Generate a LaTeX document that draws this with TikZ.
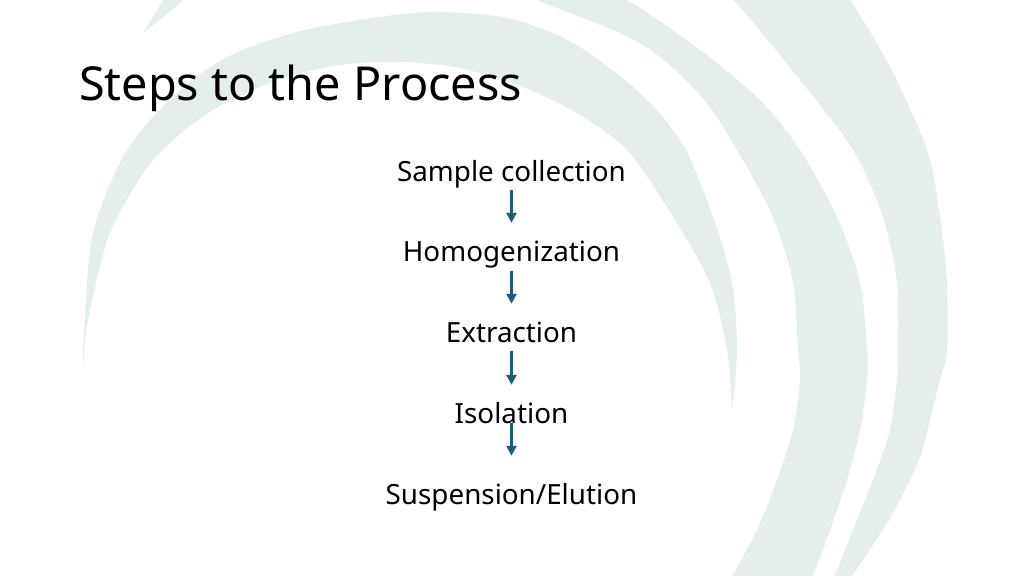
\documentclass[tikz,border=0pt]{standalone}
\usepackage{fontspec}
\setmainfont{Noto Sans}
\usetikzlibrary{arrows.meta}
\definecolor{swoosh}{RGB}{228,238,237}
\definecolor{arrowblue}{RGB}{31,93,124}
\begin{document}
\begin{tikzpicture}[x=1pt,y=-1pt,
  stepbox/.style={inner sep=0pt, anchor=base, font=\fontsize{27.8}{34}\selectfont, text height=20pt, text depth=6pt},
  flow/.style={draw=arrowblue, line width=2.6pt, -{Triangle[length=10pt,width=10pt]}},
  band/.style={fill=swoosh, draw=none}]
\useasboundingbox (0,0) rectangle (1024,575);
\fill[white] (0,0) rectangle (1024,575);
\begin{scope}
\clip (0,0) rectangle (1024,575);
% big crescent
\fill[band] plot[smooth] coordinates {(83,366) (84,333) (93,233) (127,150) (177,93) (227,57) (293,33) (360,20) (430,12) (507,18) (573,43) (640,93) (683,145) (713,217) (732,283) (737,350) (732,412)}
  -- plot[smooth] coordinates {(732,412) (727,350) (710,283) (673,217) (627,150) (575,112) (520,86) (460,68) (400,62) (340,65) (277,80) (210,112) (153,160) (110,233) (88,320) (83,366)} -- cycle;
% middle band
\fill[band] plot[smooth] coordinates {(470,-30) (537,0) (640,43) (700,95) (737,150) (773,217) (793,283) (798,350) (800,380) (793,430) (777,480) (757,530) (733,575) (720,600)}
  -- plot[smooth] coordinates {(800,600) (813,575) (830,530) (847,480) (860,430) (867,380) (867,350) (860,283) (837,217) (800,150) (760,100) (700,50) (627,0) (560,-30)} -- cycle;
% outer band
\fill[band] plot[smooth] coordinates {(680,-40) (733,0) (800,80) (853,150) (883,217) (897,283) (898,350) (897,380) (890,430) (873,480) (853,530) (835,575) (825,600)}
  -- plot[smooth] coordinates {(840,600) (853,575) (863,560) (893,513) (920,457) (933,407) (940,380) (947,350) (947,283) (940,217) (927,150) (890,67) (850,0) (820,-40)} -- cycle;
% small tip top left
\fill[band] plot[smooth] coordinates {(143,33) (153,17) (163,0) (172,-15)}
  -- plot[smooth] coordinates {(195,-15) (183,0) (163,17) (143,33)} -- cycle;
\end{scope}

\node[anchor=base west, inner sep=0pt, font=\fontsize{46.8}{56}\selectfont] (title) at (79,101) {Steps to the Process};

\node[stepbox] (s1) at (511.5,181) {Sample collection};
\node[stepbox] (s2) at (511.5,261.5) {Homogenization};
\node[stepbox] (s3) at (511.5,342.5) {Extraction};
\node[stepbox] (s4) at (511.5,423) {Isolation};
\node[stepbox] (s5) at (511.5,504) {Suspension/Elution};

\draw[flow, shorten <=3pt, shorten >=18.5pt] (s1.south) -- (s2.north);
\draw[flow, shorten <=3.2pt, shorten >=18.5pt] (s2.south) -- (s3.north);
\draw[flow, shorten <=2.2pt, shorten >=18pt] (s3.south) -- (s4.north);
\draw[flow, shorten <=-6pt, shorten >=28pt] (s4.south) -- (s5.north);
\end{tikzpicture}
\end{document}
